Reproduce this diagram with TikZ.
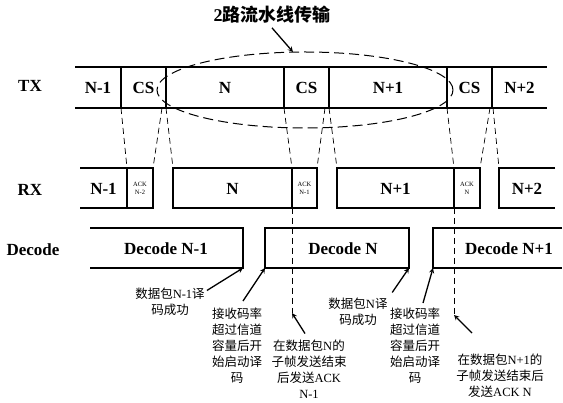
\documentclass[tikz,border=0pt]{standalone}
\usepackage{fontspec}
\setmainfont{Liberation Serif}
\newfontfamily\cjk{Noto Sans CJK SC}
\newcommand{\en}[1]{{\rmfamily #1}}

\begin{document}
\begin{tikzpicture}[x=1pt,y=-1pt,>=stealth,
  every node/.style={inner sep=1pt},
  bar/.style={line width=1.1pt},
  lab/.style={font=\bfseries\fontsize{17}{17}\selectfont},
  ack/.style={font=\fontsize{6.5}{8}\selectfont,align=center},
  link/.style={dash pattern=on 6pt off 4pt,line width=0.7pt},
  note/.style={font=\cjk\fontsize{12.5}{16}\selectfont,align=center},
  pnt/.style={->,line width=1.3pt}]
\useasboundingbox (0,0) rectangle (563,403);

\coordinate (d1) at (243,268);
\coordinate (d2) at (265,268);
\coordinate (d3) at (409,268);
\coordinate (d4) at (433,268);
\coordinate (ackA) at (292,313);
\coordinate (ackB) at (454,315);

% row labels
\node[lab] (txl) at (30,86) {TX};
\node[lab] (rxl) at (30,190) {RX};
\node[lab] (decl) at (33,250) {Decode};

% TX
\draw[bar] (75,67) -- (547,67) (75,108) -- (547,108);
\foreach \x in {121,166,284,329,447,492}
  \draw[bar] (\x,67) -- (\x,108);
\foreach \t/\x [count=\i] in {N-1/98,CS/143.5,N/225,CS/306.5,N+1/388,CS/469.5,N+2/519.5}
  \node[lab] (tx\i) at (\x,88) {\t};

% RX
\draw[bar] (80,168) -- (153,168) -- (153,208) -- (80,208);
\draw[bar] (127,168) -- (127,208);
\draw[bar] (173,168) rectangle (317,208);
\draw[bar] (292,168) -- (292,208);
\draw[bar] (337,168) rectangle (480,208);
\draw[bar] (454,168) -- (454,208);
\draw[bar] (555,168) -- (499,168) -- (499,208) -- (555,208);
\foreach \t/\x [count=\i] in {N-1/103.5,N/232.5,N+1/395.5,N+2/527}
  \node[lab] (rx\i) at (\x,189) {\t};
\node[ack] (ack1) at (140,188) {ACK\\N-2};
\node[ack] (ack2) at (304.5,188) {ACK\\N-1};
\node[ack] (ack3) at (467,188) {ACK\\N};

% TX -> RX
\foreach \a/\b in {121/127,162/153,166/173,284/292,325/317,329/337,447/454,490/480,493/499}
  \draw[link] (\a,108) -- (\b,168);

% Decode
\draw[bar] (90,228) -- (243,228) -- (d1) -- (90,268);
\draw[bar] (265,228) rectangle (d3);
\draw[bar] (562,228) -- (433,228) -- (d4) -- (562,268);
\node[lab] (dec1) at (166,249) {Decode N-1};
\node[lab] (dec2) at (343,249) {Decode N};
\node[lab] (dec3) at (509,249) {Decode N+1};
\draw[link] (292,208) -- (ackA);
\draw[link] (454,208) -- (ackB);

% pipeline
\draw[line width=1pt,dash pattern=on 10pt off 5pt] (305,90) ellipse [x radius=148pt,y radius=38pt];
\node[font=\cjk\bfseries\fontsize{18}{18}\selectfont] (title) at (272,15) {\en{2}路流水线传输};
\coordinate (tip) at (293,52);
\draw[pnt] ([yshift=-3pt]title.south) -- (tip);

% notes
\node[note] (n1) at (170,301.5) {数据包\en{N-1}译\\码成功};
\node[note] (n2) at (237,346) {接收码率\\超过信道\\容量后开\\始启动译\\码};
\node[note] (n3) at (309,369) {在数据包\en{N}的\\子帧发送结束\\后发送\en{ACK}\\\en{N-1}};
\node[note] (n4) at (358,311.5) {数据包\en{N}译\\码成功};
\node[note] (n5) at (415,346) {接收码率\\超过信道\\容量后开\\始启动译\\码};
\node[note] (n6) at (500,376) {在数据包\en{N+1}的\\子帧发送结束后\\发送\en{ACK N}};

\draw[pnt] ([shift={(1,4)}]n1.north east) -- (d1);
\draw[pnt] ([shift={(6,-6)}]n2.north) -- (d2);
\draw[pnt] ([shift={(-4,-5)}]n3.north) -- (ackA);
\draw[pnt] ([shift={(3.5,-4)}]n4.north east) -- (d3);
\draw[pnt] ([shift={(8,-4)}]n5.north) -- (d4);
\draw[pnt] ([shift={(-28,-20)}]n6.north) -- (ackB);
\end{tikzpicture}
\end{document}
